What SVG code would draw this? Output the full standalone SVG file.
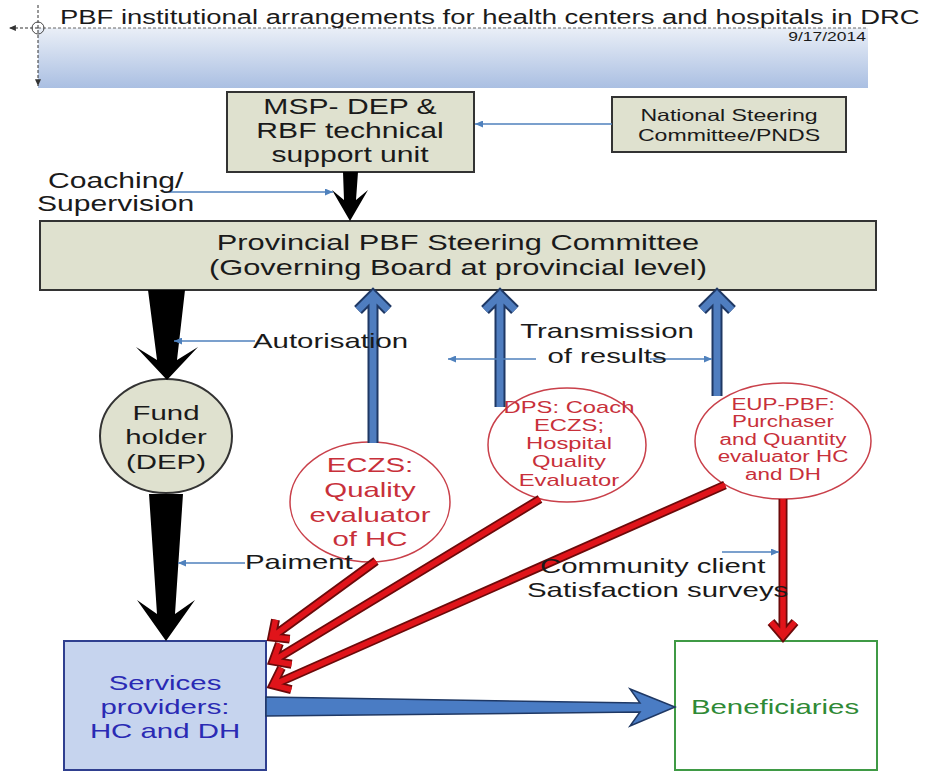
<svg xmlns="http://www.w3.org/2000/svg" width="925" height="773" viewBox="0 0 925 773">
<defs>
  <linearGradient id="band" x1="0" y1="0" x2="0" y2="1">
    <stop offset="0" stop-color="#eaeff7"/>
    <stop offset="1" stop-color="#aabfe2"/>
  </linearGradient>
  <marker id="thin" viewBox="0 0 8 7" refX="8" refY="3.5" markerWidth="8" markerHeight="7" markerUnits="userSpaceOnUse" orient="auto">
    <path d="M0,0 L8,3.5 L0,7 z" fill="#4f81bd"/>
  </marker>
  <marker id="dash" viewBox="0 0 8 7" refX="8" refY="3.5" markerWidth="7" markerHeight="6" markerUnits="userSpaceOnUse" orient="auto">
    <path d="M0,0 L8,3.5 L0,7 z" fill="#333"/>
  </marker>
</defs>
<style>
  text { font-family: "Liberation Sans", Arial, sans-serif; fill: #1a1a1a; }
  .c { text-anchor: middle; }
  .box { fill: #dfe1cf; stroke: #333; stroke-width: 2; }
  .red { fill: #fff; stroke: #c9404a; stroke-width: 1.5; }
  .rt { fill: #c8303a; font-size: 17px; }
  .rt16 { fill: #c8303a; font-size: 16px; }
  .rt21 { fill: #c8303a; font-size: 21px; }
  .f21 { font-size: 21px; }
  .thin { fill: none; stroke: #4f81bd; stroke-width: 1.5; marker-end: url(#thin); }
  .bo { fill: none; stroke: #1f3864; stroke-width: 11; stroke-linejoin: miter; }
  .bi { fill: none; stroke: #4f7dbf; stroke-width: 7; stroke-linejoin: miter; }
  .ro { fill: none; stroke: #6b0a0a; stroke-width: 9; stroke-linejoin: miter; }
  .ri { fill: none; stroke: #e0141a; stroke-width: 5.5; stroke-linejoin: miter; }
</style>

<g id="header">
  <rect x="38" y="28" width="830" height="60" fill="url(#band)"/>
  <line x1="38" y1="28" x2="868" y2="28" stroke="#666" stroke-width="1" stroke-dasharray="3,2"/>
  <line x1="38" y1="28" x2="9" y2="28" stroke="#333" stroke-width="1" stroke-dasharray="3,2" marker-end="url(#dash)"/>
  <line x1="38" y1="5" x2="38" y2="86" stroke="#333" stroke-width="1" stroke-dasharray="3,2" marker-end="url(#dash)"/>
  <circle cx="38" cy="28" r="6" fill="none" stroke="#444" stroke-width="1"/>
  <g transform="matrix(1.4 0 0 1 60 0)">
    <text x="0" y="24" font-size="19.6">PBF institutional arrangements for health centers and hospitals in DRC</text>
  </g>
  <g transform="matrix(1.4 0 0 1 866 0)">
    <text x="0" y="41" font-size="12.5" text-anchor="end" fill="#333">9/17/2014</text>
  </g>
</g>

<g id="msp">
  <rect class="box" x="227" y="92" width="247" height="80"/>
  <g transform="matrix(1.4 0 0 1 350 0)">
    <text class="c" x="0" y="114" font-size="21.5">MSP- DEP &amp;</text>
    <text class="c" x="0" y="138" font-size="21.5">RBF technical</text>
    <text class="c" x="0" y="162" font-size="21.5">support unit</text>
  </g>
</g>

<g id="national">
  <rect class="box" x="612" y="97" width="234" height="55"/>
  <g transform="matrix(1.4 0 0 1 729 0)">
    <text class="c" x="0" y="121" font-size="16.5">National Steering</text>
    <text class="c" x="0" y="141" font-size="16.5">Committee/PNDS</text>
  </g>
</g>

<g id="provincial">
  <rect class="box" x="40" y="221" width="836" height="69"/>
  <g transform="matrix(1.4 0 0 1 458 0)">
    <text class="c" x="0" y="250" font-size="22">Provincial PBF Steering Committee</text>
    <text class="c" x="0" y="275" font-size="22">(Governing Board at provincial level)</text>
  </g>
</g>

<g id="fundholder">
  <ellipse class="box" cx="166" cy="436" rx="66" ry="57"/>
  <g transform="matrix(1.4 0 0 1 166 0)">
    <text class="c f21" x="0" y="420">Fund</text>
    <text class="c f21" x="0" y="444">holder</text>
    <text class="c f21" x="0" y="469">(DEP)</text>
  </g>
</g>

<g id="eczs">
  <ellipse class="red" cx="370" cy="502" rx="80" ry="60"/>
  <g transform="matrix(1.4 0 0 1 370 0)">
    <text class="c rt21" x="0" y="472">ECZS:</text>
    <text class="c rt21" x="0" y="497">Quality</text>
    <text class="c rt21" x="0" y="522">evaluator</text>
    <text class="c rt21" x="0" y="546">of HC</text>
  </g>
</g>

<g id="dps">
  <ellipse class="red" cx="567" cy="445" rx="79" ry="57"/>
  <g transform="matrix(1.4 0 0 1 569 0)">
    <text class="c rt" x="0" y="413">DPS: Coach</text>
    <text class="c rt" x="0" y="431">ECZS;</text>
    <text class="c rt" x="0" y="449">Hospital</text>
    <text class="c rt" x="0" y="467">Quality</text>
    <text class="c rt" x="0" y="486">Evaluator</text>
  </g>
</g>

<g id="eup">
  <ellipse class="red" cx="783" cy="441" rx="88" ry="58"/>
  <g transform="matrix(1.4 0 0 1 783 0)">
    <text class="c rt16" x="0" y="410">EUP-PBF:</text>
    <text class="c rt16" x="0" y="427.5">Purchaser</text>
    <text class="c rt16" x="0" y="445">and Quantity</text>
    <text class="c rt16" x="0" y="462.5">evaluator HC</text>
    <text class="c rt16" x="0" y="480">and DH</text>
  </g>
</g>

<g id="services">
  <rect x="64" y="641" width="202" height="129" fill="#c6d4ee" stroke="#2f3f8f" stroke-width="2"/>
  <g transform="matrix(1.4 0 0 1 165 0)">
    <text class="c f21" x="0" y="690" style="fill:#2a2ab4">Services</text>
    <text class="c f21" x="0" y="714" style="fill:#2a2ab4">providers:</text>
    <text class="c f21" x="0" y="738" style="fill:#2a2ab4">HC and DH</text>
  </g>
</g>

<g id="beneficiaries">
  <rect x="675" y="641" width="202" height="129" fill="#fff" stroke="#3f9a45" stroke-width="2"/>
  <g transform="matrix(1.4 0 0 1 775 0)">
    <text class="c f21" x="0" y="714" style="fill:#2f8a36">Beneficiaries</text>
  </g>
</g>

<g id="connectors">
  <!-- black arrows -->
  <polygon points="343,172 358,172 356,200 368,190 350,221 332,190 344,200" fill="#000"/>
  <polygon points="148,290 185,290 177,360 198,347 167,380 136,347 157,360" fill="#000"/>
  <polygon points="149,494 183,494 175,614 195,600 166,641 137,600 157,614" fill="#000"/>

  <!-- blue thick up arrows -->
  <path class="bo" d="M373,443 L373,296 M358,310 L373,295 L388,310"/>
  <path class="bi" d="M373,443 L373,296 M358,310 L373,295 L388,310"/>
  <path class="bo" d="M500,407 L500,296 M485,310 L500,295 L515,310"/>
  <path class="bi" d="M500,407 L500,296 M485,310 L500,295 L515,310"/>
  <path class="bo" d="M717,396 L717,296 M702,310 L717,295 L732,310"/>
  <path class="bi" d="M717,396 L717,296 M702,310 L717,295 L732,310"/>

  <!-- red arrows -->
  <path class="ro" d="M376,561 L272,637 M275.5,619.7 L272,637 L289.7,639.1"/>
  <path class="ri" d="M376,561 L272,637 M275.5,619.7 L272,637 L289.7,639.1"/>
  <path class="ro" d="M540,499 L273,661 M279.4,643.5 L273,661 L291.6,664.3"/>
  <path class="ri" d="M540,499 L273,661 M279.4,643.5 L273,661 L291.6,664.3"/>
  <path class="ro" d="M725,485 L273,685 M281.5,667.7 L273,685 L291.3,689.7"/>
  <path class="ri" d="M725,485 L273,685 M281.5,667.7 L273,685 L291.3,689.7"/>
  <path class="ro" d="M783,499 L783,636 M771,622 L783,636 L795,622"/>
  <path class="ri" d="M783,499 L783,636 M771,622 L783,636 L795,622"/>

  <!-- blue big arrow -->
  <polygon points="266,697 640,703 630,689 675,707 630,726 640,712 266,716" fill="#4a7cc4" stroke="#1f3864" stroke-width="1.5" stroke-linejoin="miter"/>

  <!-- thin blue arrows -->
  <line class="thin" x1="612" y1="124" x2="475" y2="124"/>
  <line class="thin" x1="164" y1="192" x2="333" y2="192"/>
  <line class="thin" x1="255" y1="341" x2="174" y2="341"/>
  <line class="thin" x1="536" y1="359" x2="448" y2="359"/>
  <line class="thin" x1="650" y1="359" x2="712" y2="359"/>
  <line class="thin" x1="245" y1="563" x2="178" y2="563"/>
  <line class="thin" x1="722" y1="552" x2="779" y2="552"/>
</g>

<g id="labels">
  <g transform="matrix(1.4 0 0 1 48 0)">
    <text x="0" y="188" font-size="21.5">Coaching/</text>
  </g>
  <g transform="matrix(1.4 0 0 1 37 0)">
    <text x="0" y="211" font-size="21.5">Supervision</text>
  </g>
  <g transform="matrix(1.4 0 0 1 253 0)">
    <text class="f21" x="0" y="348">Autorisation</text>
  </g>
  <g transform="matrix(1.4 0 0 1 607 0)">
    <text class="c f21" x="0" y="338">Transmission</text>
    <text class="c f21" x="0" y="363">of results</text>
  </g>
  <g transform="matrix(1.4 0 0 1 245 0)">
    <text class="f21" x="0" y="569">Paiment</text>
  </g>
  <g transform="matrix(1.4 0 0 1 540 0)">
    <text class="f21" x="0" y="573">Community client</text>
  </g>
  <g transform="matrix(1.4 0 0 1 527 0)">
    <text class="f21" x="0" y="597">Satisfaction surveys</text>
  </g>
</g>
</svg>
